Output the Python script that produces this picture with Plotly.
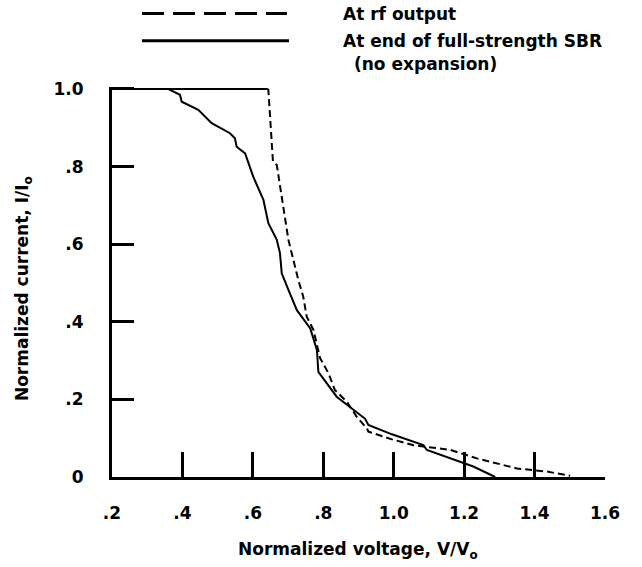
import plotly.graph_objects as go

# Data
sbr_x = [0.20, 0.359, 0.393, 0.398, 0.445, 0.483, 0.535, 0.549, 0.554, 0.578, 0.601, 0.630,
         0.644, 0.668, 0.677, 0.682, 0.701, 0.725, 0.763, 0.782, 0.786, 0.838, 0.919, 0.928,
         0.995, 1.084, 1.094, 1.226, 1.288]
sbr_y = [1.0, 1.0, 0.985, 0.967, 0.946, 0.912, 0.886, 0.873, 0.851, 0.834, 0.774, 0.714,
         0.654, 0.611, 0.577, 0.525, 0.482, 0.430, 0.383, 0.327, 0.271, 0.207, 0.150, 0.134,
         0.110, 0.082, 0.070, 0.027, 0.0]

rf_x = [0.20, 0.640, 0.644, 0.657, 0.668, 0.701, 0.729, 0.743, 0.753, 0.772, 0.786, 0.791,
        0.815, 0.833, 0.867, 0.895, 0.924, 0.928, 0.995, 1.056, 1.160, 1.236, 1.350, 1.435, 1.501]
rf_y = [1.0, 1.0, 0.998, 0.814, 0.804, 0.611, 0.508, 0.465, 0.413, 0.379, 0.323, 0.306,
        0.267, 0.224, 0.194, 0.155, 0.125, 0.117, 0.097, 0.082, 0.070, 0.048, 0.022, 0.014, 0.003]

x_tickvals = [0.2, 0.4, 0.6, 0.8, 1.0, 1.2, 1.4, 1.6]
x_ticktext = [".2", ".4", ".6", ".8", "1.0", "1.2", "1.4", "1.6"]
y_tickvals = [0, 0.2, 0.4, 0.6, 0.8, 1.0]
y_ticktext = ["0", ".2", ".4", ".6", ".8", "1.0"]

legend_labels = ["At rf output", "At end of full-strength SBR", "(no expansion)"]
x_title = "Normalized voltage, V/V<sub>o</sub>"
y_title = "Normalized current, I/I<sub>o</sub>"

FONT = "DejaVu Sans, Liberation Sans, Arial, sans-serif"
FS = 17

fig = go.Figure()

# saturated part of rf curve (flat at 1.0) drawn solid
n_flat = sum(1 for v in rf_y if v == 1.0)
fig.add_trace(go.Scatter(x=rf_x[:n_flat], y=rf_y[:n_flat], mode="lines",
                         line=dict(color="black", width=2), showlegend=False))
fig.add_trace(go.Scatter(x=rf_x[n_flat - 1:], y=rf_y[n_flat - 1:], mode="lines",
                         line=dict(color="black", width=2, dash="7px,4px"), showlegend=False))
fig.add_trace(go.Scatter(x=sbr_x, y=sbr_y, mode="lines",
                         line=dict(color="black", width=2), showlegend=False))

fig.update_layout(
    width=642, height=567,
    margin=dict(l=112, r=37, t=87, b=90),
    paper_bgcolor="white", plot_bgcolor="white",
    font=dict(family=FONT, size=FS, color="black", weight="bold"),
    showlegend=False,
)

fig.update_xaxes(
    range=[0.2, 1.6], tickvals=x_tickvals, ticktext=x_ticktext,
    showline=True, linecolor="black", linewidth=3, mirror=False,
    ticks="inside", ticklen=25, tickwidth=3, tickcolor="black",
    showgrid=False, zeroline=False,
    tickfont=dict(family=FONT, size=FS, color="black", weight="bold"),
    ticklabelstandoff=19,
)
fig.update_yaxes(
    range=[0, 1.005], tickvals=y_tickvals, ticktext=y_ticktext,
    showline=True, linecolor="black", linewidth=3, mirror=False,
    ticks="inside", ticklen=22, tickwidth=3, tickcolor="black",
    showgrid=False, zeroline=False,
    tickfont=dict(family=FONT, size=FS, color="black", weight="bold"),
    ticklabelstandoff=22,
)

W = 493.0


def px_x(p):
    return (p - 112) / W


def px_y(p):
    return (477 - p) / 388.0


# legend line samples
fig.add_shape(type="line", xref="paper", yref="paper",
              x0=px_x(142), x1=px_x(287), y0=px_y(16), y1=px_y(16),
              line=dict(color="black", width=3, dash="22px,9px"))
fig.add_shape(type="line", xref="paper", yref="paper",
              x0=px_x(142), x1=px_x(289), y0=px_y(43), y1=px_y(43),
              line=dict(color="black", width=3))

fig.add_annotation(text=legend_labels[0], xref="paper", yref="paper",
                   x=px_x(341), y=px_y(16), xanchor="left", yanchor="middle",
                   showarrow=False, font=dict(family=FONT, size=FS, weight="bold"))
fig.add_annotation(text=legend_labels[1], xref="paper", yref="paper",
                   x=px_x(341), y=px_y(43), xanchor="left", yanchor="middle",
                   showarrow=False, font=dict(family=FONT, size=FS, weight="bold"))
fig.add_annotation(text=legend_labels[2], xref="paper", yref="paper",
                   x=px_x(352), y=px_y(66), xanchor="left", yanchor="middle",
                   showarrow=False, font=dict(family=FONT, size=FS, weight="bold"))

# axis titles
fig.add_annotation(text=x_title, xref="paper", yref="paper",
                   x=px_x(358), y=px_y(550), xanchor="center", yanchor="middle",
                   showarrow=False, font=dict(family=FONT, size=FS, weight="bold"))
fig.add_annotation(text=y_title, xref="paper", yref="paper",
                   x=px_x(23), y=px_y(290), xanchor="center", yanchor="middle",
                   textangle=-90, showarrow=False,
                   font=dict(family=FONT, size=FS, weight="bold"))

fig.write_html("out.html")
